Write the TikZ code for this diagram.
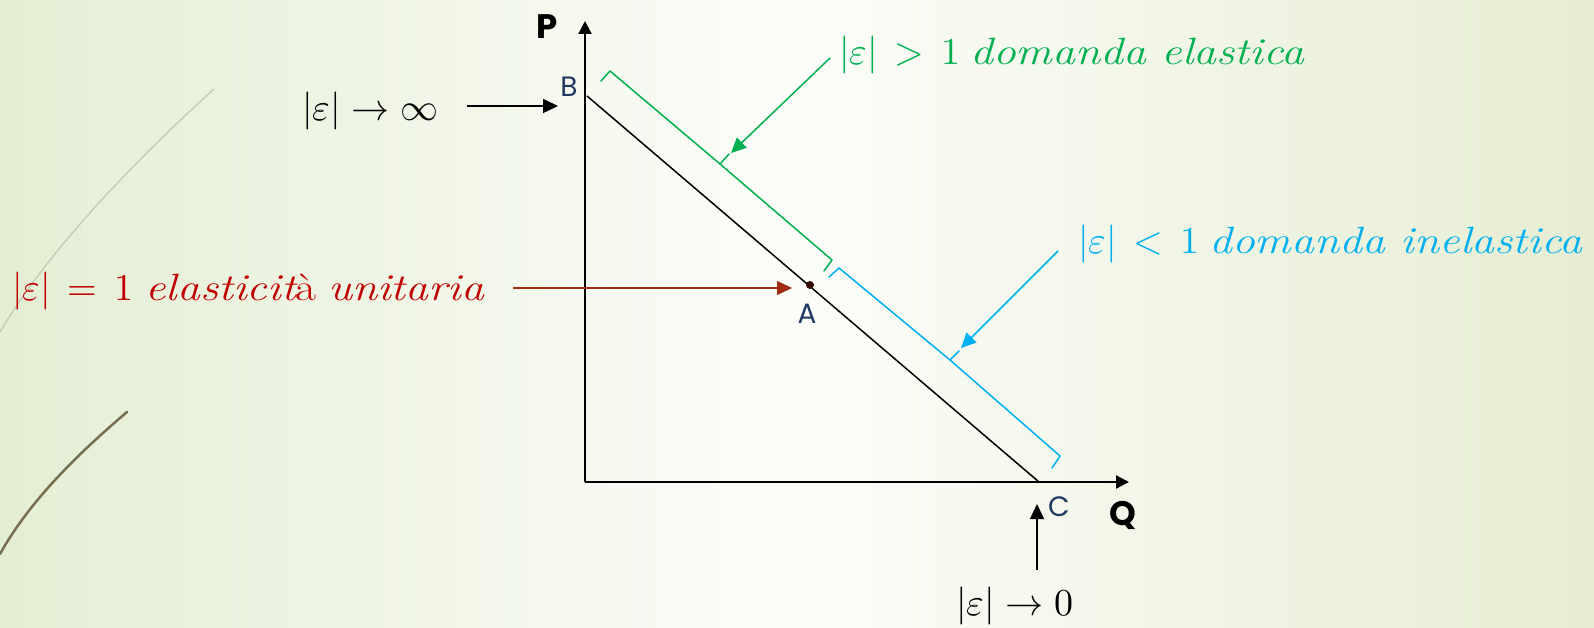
\documentclass[tikz,border=0pt]{standalone}
\usepackage{fontspec}
\usepackage{unicode-math}
\setmathfont{Latin Modern Math}
\usetikzlibrary{arrows.meta}
\newfontfamily\labfont{Poppins}
\newcommand\wit[1]{\scalebox{1.2}[1]{\itshape #1}}
\definecolor{gr}{RGB}{0,176,80}
\definecolor{bl}{RGB}{0,176,240}
\definecolor{rd}{RGB}{192,0,0}
\definecolor{rdarrow}{RGB}{160,45,20}
\definecolor{navy}{RGB}{31,56,100}
\definecolor{bgL}{RGB}{228,238,212}
\definecolor{bgM}{RGB}{252,253,249}
\definecolor{bgR}{RGB}{230,237,210}
\definecolor{curveA}{RGB}{200,200,180}
\definecolor{curveB}{RGB}{120,110,80}
\definecolor{dotcol}{RGB}{50,10,0}
\begin{document}
\begin{tikzpicture}[x=1pt,y=-1pt,
  txt/.style={font=\fontsize{38}{44}\selectfont, inner sep=0pt},
  lab/.style={font=\labfont\fontsize{28}{32}\selectfont, text=navy, inner sep=0pt},
  axlab/.style={font=\labfont\bfseries\fontsize{34}{38}\selectfont, inner sep=0pt},
  axisline/.style={line width=2.2pt, -{Triangle[length=13pt,width=13pt]}},
  demand/.style={line width=1.5pt},
  bracebox/.style={line width=1.5pt, line join=round, line cap=round},
  pointer/.style={line width=1.5pt, -{Triangle[length=15pt,width=14pt]}}
]
\useasboundingbox (0,0) rectangle (1594,628);
\shade[left color=bgL, right color=bgR, middle color=bgM] (0,0) rectangle (1594,628);
% decorative curves
\draw[curveA, line width=1.3pt] (214,89) .. controls (130,165) and (45,255) .. (0,332);
\draw[curveB, line width=2.5pt, line cap=round] (127,412) .. controls (80,452) and (30,500) .. (0,554);

% coordinates
\coordinate (O) at (585,482);
\coordinate (ytop) at (585,21);
\coordinate (xend) at (1129,482);
\coordinate (B) at (587,96);
\coordinate (C) at (1039,482);

% axes
\draw[axisline] (O) -- (ytop);
\draw[axisline] (O) -- (xend);
% demand
\draw[demand] (B) -- (C);
\node[circle, fill=dotcol, inner sep=0pt, minimum size=8pt] (ptA) at (810,285) {};

% braces
\draw[gr, bracebox] (601,81) -- (610,71) -- (720,164) -- (832,260) -- (824,271);
\draw[gr, bracebox] (720,164) -- (729,154);
\coordinate (gtip) at (731,153);
\draw[bl, bracebox] (829,277) -- (839,268) -- (950,360) -- (1060,456) -- (1052,468);
\draw[bl, bracebox] (950,360) -- (959,351);
\coordinate (btip) at (961,348);

% labels
\node[axlab] (P) at (547,27) {P};
\node[axlab] (Q) at (1123,515) {Q};
\node[lab] (Blab) at (569,87) {B};
\node[lab] (Alab) at (807,314) {A};
\node[lab] (Clab) at (1059,507) {C};

% texts
\node[txt, anchor=west] (inf) at (302,111) {$|\varepsilon|\rightarrow\infty$};
\node[txt, text=gr, anchor=west] (el) at (839,55) {$|\varepsilon|\mskip3mu>\mskip3mu1$\hspace{10pt}\wit{domanda elastica}};
\node[txt, text=bl, anchor=west] (inel) at (1078,244) {$|\varepsilon|\mskip3mu<\mskip3mu1$\hspace{10pt}\wit{domanda inelastica}};
\node[txt, text=rd, anchor=west] (unit) at (12,291) {$|\varepsilon|\mskip3mu=\mskip3mu1$\hspace{12pt}\wit{elasticit\upshape à} \wit{unitaria}};
\node[txt, anchor=west] (zero) at (956,606) {$|\varepsilon|\rightarrow 0$};

% pointers
\coordinate (infS) at (467,106);
\coordinate (infE) at (558,106);
\draw[pointer] (infS) -- (infE);
\coordinate (gS) at (830,58);
\draw[pointer, gr] (gS) -- (gtip);
\coordinate (bS) at (1058,251);
\draw[pointer, bl] (bS) -- (btip);
\coordinate (rS) at (513,288);
\coordinate (rE) at (792,288);
\draw[pointer, rdarrow] (rS) -- (rE);
\coordinate (zS) at (1037,570);
\coordinate (zE) at (1037,504);
\draw[pointer] (zS) -- (zE);
\end{tikzpicture}
\end{document}
